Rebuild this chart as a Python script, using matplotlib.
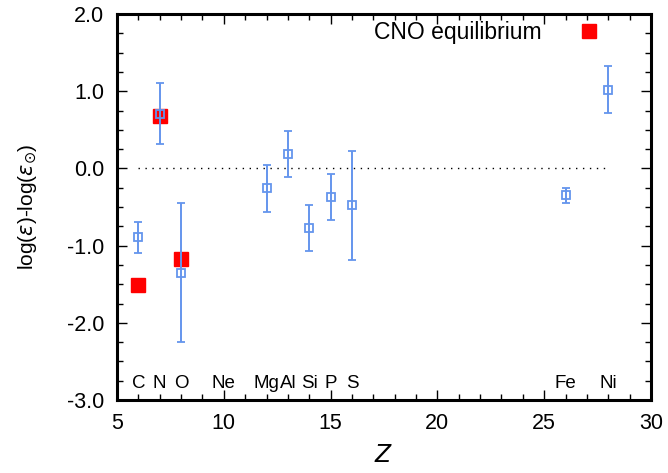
import numpy as np
import matplotlib
matplotlib.use("Agg")
import matplotlib.pyplot as plt
from matplotlib.ticker import MultipleLocator

plt.rcParams['font.family'] = ['Liberation Sans', 'DejaVu Sans']
plt.rcParams['mathtext.fontset'] = 'dejavusans'

# observed abundances
obs_z = [6, 7, 8, 12, 13, 14, 15, 16, 26, 28]
obs_val = [-0.89, 0.71, -1.35, -0.26, 0.19, -0.77, -0.37, -0.48, -0.35, 1.02]
obs_err = [0.20, 0.40, 0.90, 0.30, 0.30, 0.30, 0.30, 0.70, 0.10, 0.30]

# CNO equilibrium values
cno_z = [6, 7, 8]
cno_val = [-1.51, 0.68, -1.17]

# element names along the bottom
elem_names = ['C', 'N', 'O', 'Ne', 'Mg', 'Al', 'Si', 'P', 'S', 'Fe', 'Ni']
elem_z = [6, 7, 8, 10, 12, 13, 14, 15, 16, 26, 28]
elem_y = -2.78

blue = '#6495ED'

fig = plt.figure(figsize=(6.68, 4.73), dpi=100)
ax = fig.add_axes([0.1751, 0.1543, 0.7995, 0.8161])

ax.plot([6, 28], [0, 0], color='black', linestyle=(0, (1, 4)), linewidth=1.0)

ax.plot(cno_z, cno_val, 's', color='red', markersize=9.5, linestyle='none',
        label='CNO equilibrium', zorder=3)
ax.errorbar(obs_z, obs_val, yerr=obs_err, fmt='s', color=blue, markersize=5.5,
            markerfacecolor='none', markeredgewidth=1.3, elinewidth=1.4,
            capsize=3, capthick=1.4, zorder=4)

for name, z in zip(elem_names, elem_z):
    ax.text(z, elem_y, name, ha='center', va='center', fontsize=13.5)

ax.set_xlim(5, 30)
ax.set_ylim(-3, 2)
ax.xaxis.set_major_locator(MultipleLocator(5))
ax.xaxis.set_minor_locator(MultipleLocator(1))
ax.yaxis.set_major_locator(MultipleLocator(1))
ax.yaxis.set_minor_locator(MultipleLocator(0.25))
ax.set_yticks([-3, -2, -1, 0, 1, 2])
ax.set_yticklabels(['-3.0', '-2.0', '-1.0', '0.0', '1.0', '2.0'])

ax.tick_params(which='both', direction='in', top=True, right=True, labelsize=15.5,
               width=1.0)
ax.tick_params(which='major', length=7)
ax.tick_params(axis='x', which='major', pad=9)
ax.tick_params(axis='y', which='major', pad=9)
ax.tick_params(which='minor', length=4)
for s in ax.spines.values():
    s.set_linewidth(2.2)

ax.set_xlabel('$Z$', fontsize=17, labelpad=8)
ax.set_ylabel(r'log($\varepsilon$)-log($\varepsilon_{\odot}$)', fontsize=15,
              labelpad=20)

ax.legend(loc='upper right', markerfirst=False, frameon=False, fontsize=16.5,
          handletextpad=1.3, borderaxespad=0.2, handlelength=1.5,
          bbox_to_anchor=(0.941, 1.017))

fig.savefig('out.png', dpi=100)
